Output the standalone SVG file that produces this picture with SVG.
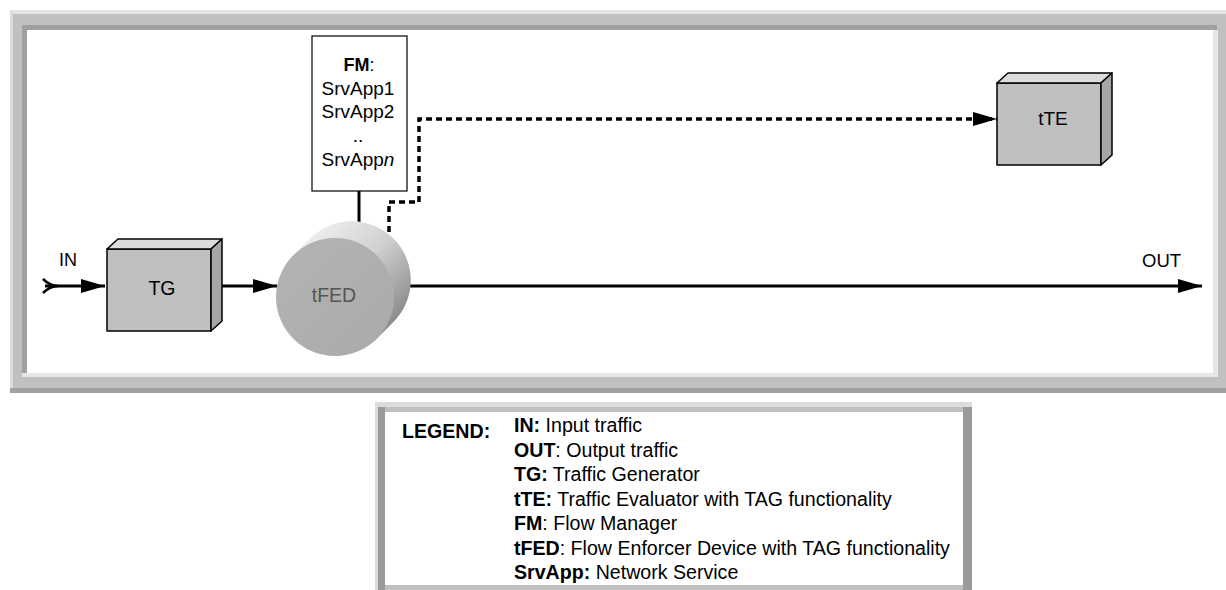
<svg xmlns="http://www.w3.org/2000/svg" width="1226" height="590" viewBox="0 0 1226 590">
<style>
.lbl{font-family:"Liberation Sans",Arial,sans-serif;fill:#000}
.box{stroke:#000;stroke-width:1.5;stroke-linejoin:round}
.front{fill:#c0c0c0}
.top{fill:#dcdcdc}
.side{fill:#a6a6a6}
.conn{fill:none;stroke:#000;stroke-width:3}
.dot{fill:none;stroke:#000;stroke-width:3.5;stroke-dasharray:6 4}
.leg{font-family:"Liberation Sans",Arial,sans-serif;font-size:19.6px;fill:#000}
.b{font-weight:bold}
</style>
<defs>
<marker id="ah" markerUnits="userSpaceOnUse" markerWidth="24" markerHeight="14" refX="24" refY="7" orient="auto">
<path d="M0,0 L24,7 L0,14 Z" fill="#000"/>
</marker>
<linearGradient id="cyl" gradientUnits="userSpaceOnUse" x1="300" y1="225" x2="412" y2="335">
<stop offset="0" stop-color="#f4f4f4"/>
<stop offset="0.45" stop-color="#d2d2d2"/>
<stop offset="1" stop-color="#747474"/>
</linearGradient>
<linearGradient id="face" x1="0" y1="0" x2="1" y2="1">
<stop offset="0" stop-color="#b4b4b4"/>
<stop offset="1" stop-color="#aaaaaa"/>
</linearGradient>
</defs>

<g id="frame">
<rect x="10" y="10" width="1216" height="383" fill="#c0c0c0"/>
<rect x="10" y="10" width="1216" height="4" fill="#e4e4e4"/>
<rect x="10" y="10" width="3" height="383" fill="#dcdcdc"/>
<rect x="10" y="388" width="1216" height="5" fill="#a0a0a0"/>
<rect x="22" y="25" width="1195" height="5" fill="#a0a0a0"/>
<rect x="22" y="25" width="5" height="350" fill="#a0a0a0"/>
<rect x="22" y="373" width="1196" height="4" fill="#e6e6e6"/>
<rect x="1213" y="30" width="5" height="347" fill="#e6e6e6"/>
<rect x="27" y="30" width="1186" height="343" fill="#ffffff"/>
</g>

<g id="connectors">
<line class="conn" x1="359" y1="191" x2="359" y2="222"/>
<line class="conn" x1="45" y1="286" x2="105" y2="286" marker-end="url(#ah)"/>
<path d="M43,279 Q50,286 58,286 M43,293 Q50,286 58,286" fill="none" stroke="#000" stroke-width="2.5"/>
<line class="conn" x1="222" y1="286" x2="277" y2="286" marker-end="url(#ah)"/>
<line class="conn" x1="410" y1="286" x2="1202" y2="286" marker-end="url(#ah)"/>
<path class="dot" d="M389,232 L389,202 L419,202 L419,119 L997,119" marker-end="url(#ah)"/>
</g>

<g id="IN">
<text class="lbl" x="59" y="266" font-size="18">IN</text>
</g>
<g id="OUT">
<text class="lbl" x="1142" y="267" font-size="18.5">OUT</text>
</g>

<g id="FM">
<rect x="312" y="36" width="95" height="155" fill="#fff" stroke="#000" stroke-width="1.2"/>
<text class="lbl" x="359" y="71" font-size="18" text-anchor="middle"><tspan font-weight="bold">FM</tspan>:</text>
<text class="lbl" x="358" y="95" font-size="19" text-anchor="middle">SrvApp1</text>
<text class="lbl" x="358" y="118" font-size="19" text-anchor="middle">SrvApp2</text>
<text class="lbl" x="358" y="142" font-size="19" text-anchor="middle">..</text>
<text class="lbl" x="358" y="166" font-size="19" text-anchor="middle">SrvApp<tspan font-style="italic">n</tspan></text>
</g>

<g id="TG">
<rect class="box front" x="107" y="249" width="104" height="82"/>
<path class="box top" d="M107,249 L118,239 L222,239 L211,249 Z"/>
<path class="box side" d="M211,249 L222,239 L222,321 L211,331 Z"/>
<text class="lbl" x="162" y="295" font-size="19.5" text-anchor="middle" fill="#222">TG</text>
</g>

<g id="tFED">
<path d="M293.3,255.3 L311.3,237.3 A59,59 0 0 1 394.7,320.7 L376.7,338.7 A59,59 0 0 1 293.3,255.3 Z" fill="url(#cyl)"/>
<circle cx="335" cy="297" r="59" fill="url(#face)"/>
<text class="lbl" x="334" y="302" font-size="19.5" text-anchor="middle" style="fill:#555">tFED</text>
</g>

<g id="tTE">
<rect class="box front" x="997" y="83" width="104" height="82"/>
<path class="box top" d="M997,83 L1008,73 L1112,73 L1101,83 Z"/>
<path class="box side" d="M1101,83 L1112,73 L1112,155 L1101,165 Z"/>
<text class="lbl" x="1053" y="125" font-size="19" text-anchor="middle" fill="#222">tTE</text>
</g>

<g id="legend">
<rect x="375" y="402" width="597" height="195" fill="#c0c0c0"/>
<rect x="375" y="402" width="597" height="5" fill="#dcdcdc"/>
<rect x="375" y="402" width="3" height="195" fill="#dcdcdc"/>
<rect x="378" y="407" width="7" height="190" fill="#9a9a9a"/>
<rect x="963" y="407" width="9" height="190" fill="#9a9a9a"/>
<rect x="385" y="412" width="578" height="173" fill="#ffffff"/>
<text class="leg b" x="402" y="438">LEGEND:</text>
<text class="leg" x="514" y="432"><tspan class="b">IN:</tspan> Input traffic</text>
<text class="leg" x="514" y="456.5"><tspan class="b">OUT</tspan>: Output traffic</text>
<text class="leg" x="514" y="481"><tspan class="b">TG:</tspan> Traffic Generator</text>
<text class="leg" x="514" y="505.5"><tspan class="b">tTE:</tspan> Traffic Evaluator with TAG functionality</text>
<text class="leg" x="514" y="530"><tspan class="b">FM</tspan>: Flow Manager</text>
<text class="leg" x="514" y="554.5"><tspan class="b">tFED</tspan>: Flow Enforcer Device with TAG functionality</text>
<text class="leg" x="514" y="579"><tspan class="b">SrvApp:</tspan> Network Service</text>
</g>
</svg>
